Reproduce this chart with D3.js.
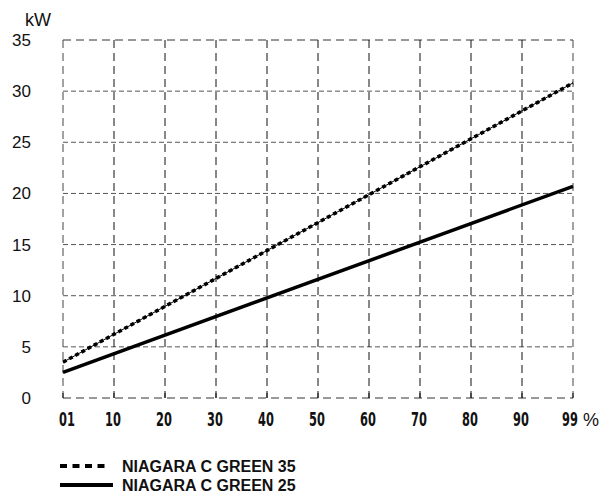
<!DOCTYPE html>
<html><head><meta charset="utf-8">
<script src="https://cdn.jsdelivr.net/npm/d3@7"></script>
<style>body{margin:0;background:#fff}svg{display:block}</style>
</head><body>
<script>
// Data
const xTickValues = [0, 10, 20, 30, 40, 50, 60, 70, 80, 90, 100];
const xTickLabels = ["01", "10", "20", "30", "40", "50", "60", "70", "80", "90", "99"];
const yTickValues = [0, 5, 10, 15, 20, 25, 30, 35];
const seriesNames = ["NIAGARA C GREEN 35", "NIAGARA C GREEN 25"];
const xPoints = [0, 100]; // 1% .. 99%
const green35 = [3.5, 30.8];
const green25 = [2.5, 20.7];

const W = 606, H = 495;
const svg = d3.select("body").append("svg").attr("width", W).attr("height", H);
const x = d3.scaleLinear().domain([0, 100]).range([63, 573]);
const y = d3.scaleLinear().domain([0, 35]).range([398, 40]);

const g = svg.append("g");
// horizontal grid
yTickValues.forEach(v => {
  const border = (v === 0 || v === 35);
  g.append("line").attr("x1", x(0)).attr("x2", x(100)).attr("y1", y(v)).attr("y2", y(v))
    .attr("stroke", border ? "#333" : "#555").attr("stroke-width", 1)
    .attr("stroke-dasharray", border ? "8,5" : "5,3");
});
// vertical grid
xTickValues.forEach(v => {
  const border = (v === 0 || v === 100);
  g.append("line").attr("x1", x(v)).attr("x2", x(v)).attr("y1", y(35)).attr("y2", y(0))
    .attr("stroke", border ? "#444" : "#111").attr("stroke-width", 1)
    .attr("stroke-dasharray", "8,5");
  g.append("line").attr("x1", x(v)).attr("x2", x(v)).attr("y1", y(0) - 5).attr("y2", y(0))
    .attr("stroke", "#111").attr("stroke-width", 1);
});

// y labels
yTickValues.forEach(v => {
  svg.append("text").attr("x", 31).attr("y", y(v) + 6).attr("text-anchor", "end")
    .attr("font-family", "Liberation Sans, Arial, sans-serif").attr("font-size", 17)
    .attr("fill", "#111").text(v);
});
svg.append("text").attr("x", 25).attr("y", 26)
  .attr("font-family", "Liberation Sans, Arial, sans-serif").attr("font-size", 18)
  .attr("fill", "#111").text("kW");

// x labels (narrow, tall digits)
xTickValues.forEach((v, i) => {
  const dx = i === 0 ? 4 : (i === xTickValues.length - 1 ? -3 : -1);
  svg.append("text").attr("transform", `translate(${x(v) + dx},426) scale(0.6,1)`)
    .attr("text-anchor", "middle")
    .attr("font-family", "DejaVu Sans, sans-serif").attr("font-size", 19).attr("font-weight", "bold")
    .attr("fill", "#111").text(xTickLabels[i]);
});
svg.append("text").attr("x", x(100) + 10).attr("y", 426)
  .attr("font-family", "Liberation Sans, Arial, sans-serif").attr("font-size", 18)
  .attr("fill", "#111").text("%");

const line = d3.line().x(d => x(d[0])).y(d => y(d[1]));
const d35 = xPoints.map((v, i) => [v, green35[i]]);
const d25 = xPoints.map((v, i) => [v, green25[i]]);

svg.append("path").attr("d", line(d25)).attr("fill", "none").attr("stroke", "#000").attr("stroke-width", 3.5);
svg.append("path").attr("d", line(d35)).attr("fill", "none").attr("stroke", "#000").attr("stroke-width", 1);
svg.append("path").attr("d", line(d35)).attr("fill", "none").attr("stroke", "#000").attr("stroke-width", 3.5)
  .attr("stroke-dasharray", "4,3");

// legend
const ly = [466, 485];
svg.append("line").attr("x1", 60).attr("x2", 110).attr("y1", ly[0]).attr("y2", ly[0])
  .attr("stroke", "#000").attr("stroke-width", 4).attr("stroke-dasharray", "7,5.5");
svg.append("line").attr("x1", 60).attr("x2", 113).attr("y1", ly[1]).attr("y2", ly[1])
  .attr("stroke", "#000").attr("stroke-width", 4);
seriesNames.forEach((n, i) => {
  svg.append("text").attr("x", 122).attr("y", ly[i] + 6)
    .attr("font-family", "Liberation Sans, Arial, sans-serif").attr("font-size", 16).attr("font-weight", "bold")
    .attr("fill", "#111").text(n);
});
</script>
</body></html>
